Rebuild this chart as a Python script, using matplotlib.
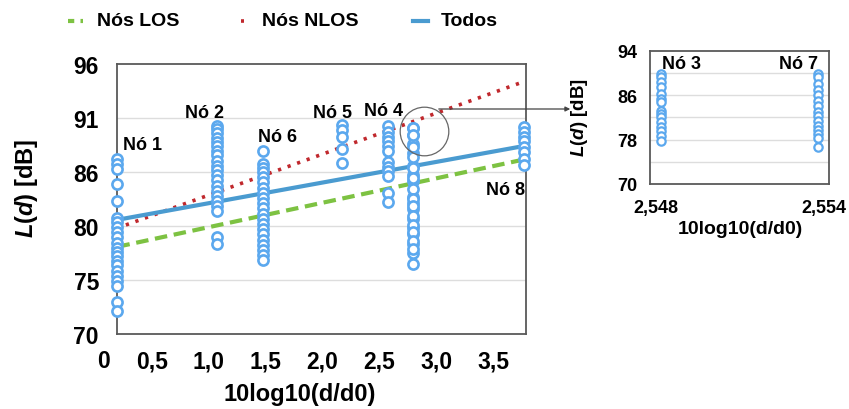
import numpy as np
import matplotlib
matplotlib.use("Agg")
import matplotlib.pyplot as plt
from matplotlib.lines import Line2D
from matplotlib.patches import FancyArrowPatch

plt.rcParams['font.family'] = ['Liberation Sans', 'DejaVu Sans']
plt.rcParams['font.weight'] = 'bold'
plt.rcParams['mathtext.fontset'] = 'custom'
plt.rcParams['mathtext.it'] = 'Liberation Sans:italic:bold'
plt.rcParams['mathtext.rm'] = 'Liberation Sans:bold'

# ---------------- data ----------------
node_names = ["Nó 1", "Nó 2", "Nó 6", "Nó 5", "Nó 4", "Nó 3/7", "Nó 8"]
node_x = [0.196, 1.07, 1.476, 2.17, 2.575, 2.795, 3.77]

no1 = [86.9, 86.4, 85.9, 84.4, 82.8, 81.2, 80.8, 80.3, 79.8, 79.3, 78.8,
       78.3, 77.9, 77.5, 77.0, 76.6, 76.1, 75.6, 75.1, 74.6, 73.1, 72.2]
no2 = [90.0, 89.7, 89.4, 88.9, 88.5, 88.1, 87.6, 87.2, 86.7, 86.2, 85.8,
       85.3, 84.8, 84.3, 83.8, 83.3, 82.8, 82.3, 81.8, 79.3, 78.7]
no6 = [87.6, 86.4, 86.0, 85.6, 85.1, 84.6, 84.1, 83.6, 83.1, 82.6, 82.1,
       81.6, 81.1, 80.6, 80.1, 79.6, 79.1, 78.6, 78.1, 77.6, 77.1]
no5 = [90.1, 89.6, 89.0, 87.8, 86.5]
no4 = [90.0, 89.5, 89.0, 88.6, 88.1, 87.6, 86.6, 86.1, 85.7, 85.2, 83.6, 82.7]
no3 = [89.8, 89.2, 88.3, 87.4, 86.2, 85.3, 84.7, 83.2, 82.6, 82.0, 81.1,
       80.2, 79.6, 78.7, 77.8]
no7 = [89.8, 89.2, 88.0, 87.0, 86.0, 85.0, 84.0, 83.0, 82.3, 81.4, 80.5,
       79.8, 79.0, 78.2, 76.7]
no8 = [89.9, 89.5, 89.0, 88.6, 88.0, 87.5, 86.9, 86.3]
node_vals = [no1, no2, no6, no5, no4, no3 + no7, no8]

# trend lines: values at first and last node
los_x = [0.196, 3.77]
los_y = [78.4, 86.8]
nlos_x = [0.27, 3.77]
nlos_y = [80.5, 94.3]
todos_x = [0.196, 3.77]
todos_y = [81.0, 88.1]

# inset (zoom on Nó 3 and Nó 7)
inset_x = [2.5482, 2.5538]
inset_vals = [no3, no7]

main_ylim = (70, 96)
main_yticks = [70, 75.2, 80.4, 85.6, 90.8, 96]
main_yticklabels = ["70", "75", "80", "86", "91", "96"]
main_xticks = [0.5, 1.0, 1.5, 2.0, 2.5, 3.0, 3.5]
main_xticklabels = ["0,5", "1,0", "1,5", "2,0", "2,5", "3,0", "3,5"]

# ---------------- style ----------------
c_pts = '#5BA8EE'
c_los = '#7DC242'
c_nlos = '#C0282D'
c_all = '#4A9BD0'
c_frame = '#595959'
c_grid = '#DDDDDD'
ls_los = (0, (3, 1.6))
ls_nlos = (0, (0.9, 1.9))

W, H = 849, 410
fig = plt.figure(figsize=(W / 100, H / 100), dpi=100)

# ---------------- main axes ----------------
ax = fig.add_axes([117 / W, 1 - 335 / H, (526 - 117) / W, (335 - 65) / H])
ax.set_xlim(0.192, 3.79)
ax.set_ylim(*main_ylim)

for yy in main_yticks[1:-1]:
    ax.axhline(yy, color=c_grid, lw=1, zorder=0)

ax.plot(los_x, los_y, color=c_los, lw=3, ls=ls_los, zorder=2)
ax.plot(nlos_x, nlos_y, color=c_nlos, lw=2.6, ls=ls_nlos, zorder=2)
ax.plot(todos_x, todos_y, color=c_all, lw=3, zorder=2)

for xv, vals in zip(node_x, node_vals):
    ax.plot([xv] * len(vals), vals, 'o', ms=7.3, mfc='white', mec=c_pts,
            mew=1.9, zorder=3, clip_on=False)

ax.set_yticks(main_yticks)
ax.set_yticklabels(main_yticklabels)
ax.set_xticks(main_xticks)
ax.set_xticklabels(main_xticklabels)
ax.tick_params(axis='both', length=0, labelsize=16.5)
ax.tick_params(axis='y', pad=13)
ax.tick_params(axis='x', pad=11)
ax.annotate("0", xy=(0.077, 0), xycoords=ax.get_xaxis_transform(),
            xytext=(0, -11), textcoords='offset points', ha='center',
            va='top', fontsize=16.5, fontweight='bold')

for s in ax.spines.values():
    s.set_color(c_frame)
    s.set_linewidth(1.3)

label_pos = [(0.245, 88.2, "Nó 1", 'left'), (0.966, 91.3, "Nó 2", 'center'),
             (1.607, 89.05, "Nó 6", 'center'), (2.09, 91.35, "Nó 5", 'center'),
             (2.54, 91.55, "Nó 4", 'center'), (3.78, 83.9, "Nó 8", 'right')]
for xv, yv, txt, ha in label_pos:
    ax.text(xv, yv, txt, ha=ha, va='center', fontsize=13, fontweight='bold',
            zorder=4)

fig.text(300 / W, 1 - 395 / H, "10log10(d/d0)", ha='center', va='center',
         fontsize=17, fontweight='bold')
fig.text(27 / W, 1 - 188 / H, r"$\mathit{L(d)}$ [dB]", rotation=90,
         ha='center', va='center', fontsize=17, fontweight='bold')

# highlight circle and arrow
ax.plot([2.89], [89.58], 'o', ms=35, mfc='none', mec='#666666', mew=0.9,
        zorder=5, clip_on=False)
arrow = FancyArrowPatch((436 / W, 1 - 110 / H), (573 / W, 1 - 110 / H),
                        transform=fig.transFigure, arrowstyle='-|>',
                        mutation_scale=7, lw=0.9, color='#444444')
fig.add_artist(arrow)

# ---------------- inset ----------------
ax2 = fig.add_axes([650 / W, 1 - 185 / H, (829 - 650) / W, (185 - 51.7) / H])
ax2.set_xlim(2.5478, 2.5542)
ax2.set_ylim(70, 94)
for yy in [74, 78, 82, 86, 90]:
    ax2.axhline(yy, color=c_grid, lw=1, zorder=0)
for xv, vals in zip(inset_x, inset_vals):
    ax2.plot([xv] * len(vals), vals, 'o', ms=6, mfc='white', mec=c_pts,
             mew=1.6, zorder=3)
ax2.set_yticks([70, 78, 86, 94])
ax2.set_xticks([2.548, 2.554])
ax2.set_xticklabels(["2,548", "2,554"])
ax2.tick_params(axis='both', length=0, labelsize=13)
ax2.tick_params(axis='y', pad=9)
ax2.tick_params(axis='x', pad=11)
for s in ax2.spines.values():
    s.set_color(c_frame)
    s.set_linewidth(1.3)
ax2.text(2.54823, 91.7, "Nó 3", ha='left', va='center', fontsize=13,
         fontweight='bold')
ax2.text(2.55381, 91.7, "Nó 7", ha='right', va='center', fontsize=13,
         fontweight='bold')
fig.text(740 / W, 1 - 229 / H, "10log10(d/d0)", ha='center', va='center',
         fontsize=14, fontweight='bold')
fig.text(580 / W, 1 - 118 / H, r"$\mathit{L(d)}$ [dB]", rotation=90,
         ha='center', va='center', fontsize=13.5, fontweight='bold')

# ---------------- legend (laid out by hand) ----------------
leg_y = 1 - 22 / H
leg_items = [("Nós LOS", c_los, 3, (0, (1.5, 1.5)), 68, 83, 97),
             ("Nós NLOS", c_nlos, 2.6, ls_nlos, 240.5, 243.5, 262),
             ("Todos", c_all, 3, '-', 413, 428, 441)]
for txt, col, lw, ls, x0, x1, xt in leg_items:
    fig.add_artist(Line2D([x0 / W, x1 / W], [leg_y, leg_y], color=col, lw=lw,
                          ls=ls, transform=fig.transFigure))
    fig.text(xt / W, leg_y, txt, ha='left', va='center', fontsize=14,
             fontweight='bold')

fig.savefig("out.png", dpi=100)
